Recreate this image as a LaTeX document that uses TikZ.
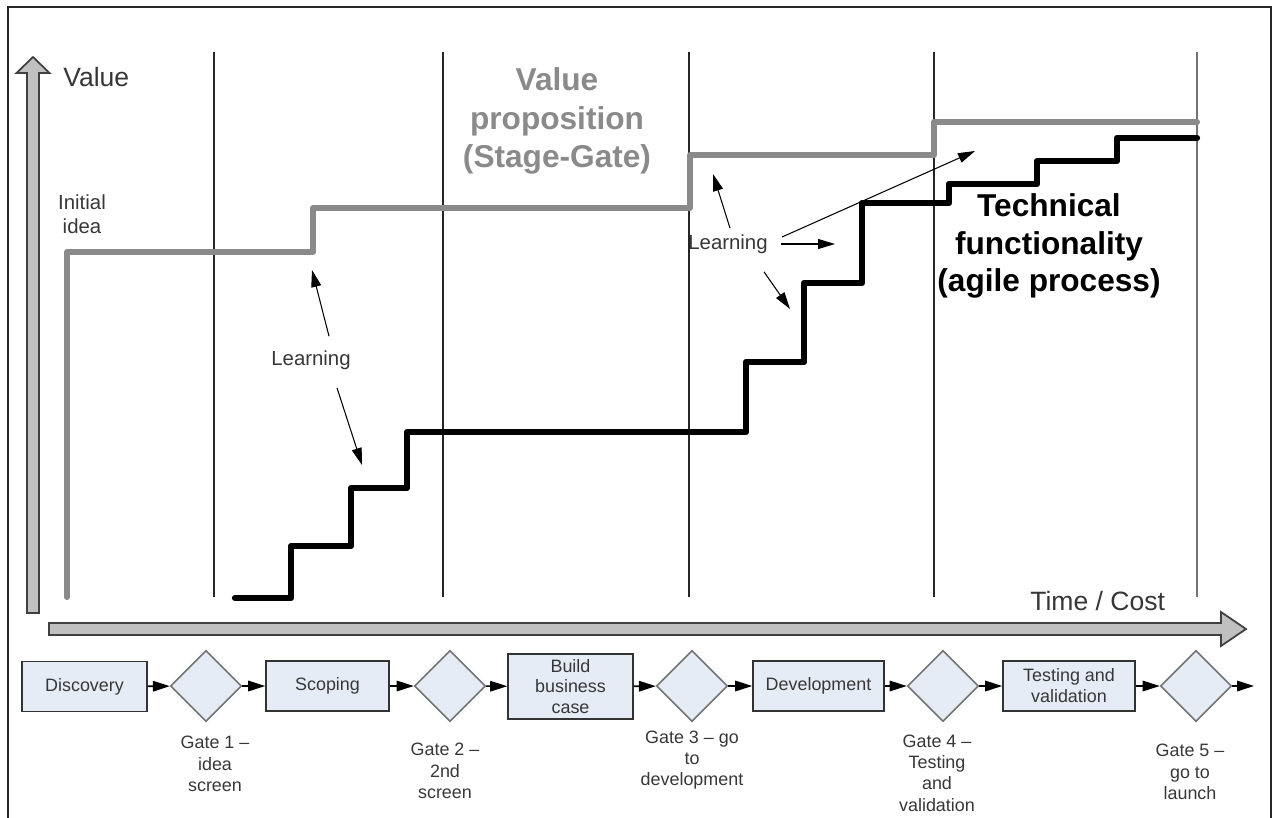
\documentclass[tikz,border=0pt]{standalone}
\usepackage{fontspec}
\setmainfont{Liberation Sans}
\usetikzlibrary{shapes.geometric,arrows.meta,positioning}

\definecolor{boxfill}{RGB}{230,236,246}
\definecolor{valgray}{RGB}{138,138,138}
\definecolor{txtgray}{RGB}{55,55,55}
\definecolor{axisfill}{RGB}{192,192,192}

\begin{document}
\begin{tikzpicture}[x=0.02cm, y=-0.02cm,
    stagebox/.style={draw=black!80, fill=boxfill, line width=0.9pt, minimum height=1cm, inner sep=0pt,
      align=center, text=txtgray, font=\fontsize{10.2}{11.9}\selectfont},
    gatebox/.style={diamond, draw=black!55, fill=boxfill, line width=0.9pt, minimum size=1.42cm, inner sep=0pt},
    gatelabel/.style={align=center, text=txtgray, inner sep=0pt, font=\fontsize{10.2}{12.1}\selectfont},
    flow/.style={-{Triangle[length=0.34cm,width=0.21cm]}, line width=0.9pt, black},
    learn/.style={-{Triangle[length=0.34cm,width=0.2cm]}, line width=0.6pt, black},
    smalltext/.style={align=center, text=txtgray, inner sep=0pt, font=\fontsize{11.6}{13.6}\selectfont},
    axislabel/.style={text=txtgray, inner sep=0pt, anchor=west, font=\fontsize{15.1}{18}\selectfont},
    axisarrow/.style={fill=axisfill, draw=black!75, line width=1pt, line join=miter},
    phase/.style={line width=0.8pt, black!85},
    valueline/.style={line width=3.4pt, valgray, line join=round, line cap=round},
    techline/.style={line width=3.6pt, black, line join=round, line cap=round}]
    \useasboundingbox (0,0) rectangle (1278,818);
    \draw[black!85, line width=1pt] (8,818) -- (8,7) -- (1271,7) -- (1271,818);

    % axes
    \draw[axisarrow] (27,613) -- (27,73) -- (16.5,73) -- (33,57) -- (49.5,73) -- (39,73) -- (39,613) -- cycle;
    \draw[axisarrow] (49,623) -- (1221,623) -- (1221,612) -- (1246,629) -- (1221,646) -- (1221,635) -- (49,635) -- cycle;
    \node[axislabel] (value) at (63,77) {Value};
    \node[axislabel] (timecost) at (1030,601) {Time / Cost};

    \foreach \x in {214,443,689,934}
        \draw[phase] (\x,52) -- (\x,597);
    \draw[line width=0.8pt, black!55] (1197,52) -- (1197,597);

    % value proposition and technical functionality
    \draw[valueline] (67,597) |- (313,252) |- (690,208) |- (934,155) |- (1197,122);
    \draw[techline] (235,598) -| (291,546) -| (351,488) -| (407,432) -| (746,362) -| (804,283)
        -| (862,203) -| (949,184) -| (1037,161) -| (1117,138) -- (1197,138);

    \node[smalltext] (idea) at (82,214) {Initial\\idea};
    \node[align=center, inner sep=0pt, text=valgray, font=\fontsize{18}{22}\selectfont\bfseries] (prop) at (557,121)
        {Value\\proposition\\(Stage-Gate)};
    \node[align=center, inner sep=0pt, font=\fontsize{18}{21.3}\selectfont\bfseries] (tech) at (1049,246)
        {Technical\\functionality\\(agile process)};

    % learning
    \node[smalltext] (learnA) at (311,360) {Learning};
    \coordinate (tipA1) at (312,270);
    \coordinate (tipA2) at (362,465);
    \draw[learn] ([shift={(18,-14)}]learnA.north) -- (tipA1);
    \draw[learn] ([shift={(26,18)}]learnA.south) -- (tipA2);

    \node[smalltext] (learnB) at (728,244) {Learning};
    \coordinate (tipB1) at (713,174);
    \coordinate (tipB2) at (975,151);
    \coordinate (tipB3) at (835,244);
    \coordinate (tipB4) at (790,309);
    \draw[learn] ([shift={(2,-6)}]learnB.north) -- (tipB1);
    \draw[learn] ([shift={(14,-7)}]learnB.east) -- (tipB2);
    \draw[learn] ([xshift=0.26cm]learnB.east) -- (tipB3);
    \draw[learn] ([shift={(36,18)}]learnB.south) -- (tipB4);

    % stages and gates
    \node[stagebox, minimum width=2.5cm] (disc) at (84.5,686.5) {Discovery};
    \node[gatebox] (g1) at (206,686) {};
    \node[stagebox, minimum width=2.46cm] (scop) at (327.5,686) {Scoping};
    \node[gatebox] (g2) at (450,686) {};
    \node[stagebox, minimum width=2.5cm, minimum height=1.3cm] (build) at (570.5,686.5) {Build\\business\\case};
    \node[gatebox] (g3) at (692,686) {};
    \node[stagebox, minimum width=2.62cm] (dev) at (818.5,686) {Development};
    \node[gatebox] (g4) at (943,686) {};
    \node[stagebox, minimum width=2.64cm] (test) at (1069,686) {Testing and\\validation};
    \node[gatebox] (g5) at (1196,686) {};
    \coordinate (launch) at (1254,686);

    \draw[flow] (disc) -- (g1);
    \draw[flow] (g1) -- (scop);
    \draw[flow] (scop) -- (g2);
    \draw[flow] (g2) -- (build);
    \draw[flow] (build) -- (g3);
    \draw[flow] (g3) -- (dev);
    \draw[flow] (dev) -- (g4);
    \draw[flow] (g4) -- (test);
    \draw[flow] (test) -- (g5);
    \draw[flow] (g5) -- (launch);

    \node[gatelabel] (gl1) at (215,764) {Gate 1 --\\idea\\screen};
    \node[gatelabel] (gl2) at (445,771) {Gate 2 --\\2nd\\screen};
    \node[gatelabel] (gl3) at (692,760) {Gate 3 -- go\\to\\development};
    \node[gatelabel] (gl4) at (937,773) {Gate 4 --\\Testing\\and\\validation};
    \node[gatelabel] (gl5) at (1190,772) {Gate 5 --\\go to\\launch};
\end{tikzpicture}
\end{document}
